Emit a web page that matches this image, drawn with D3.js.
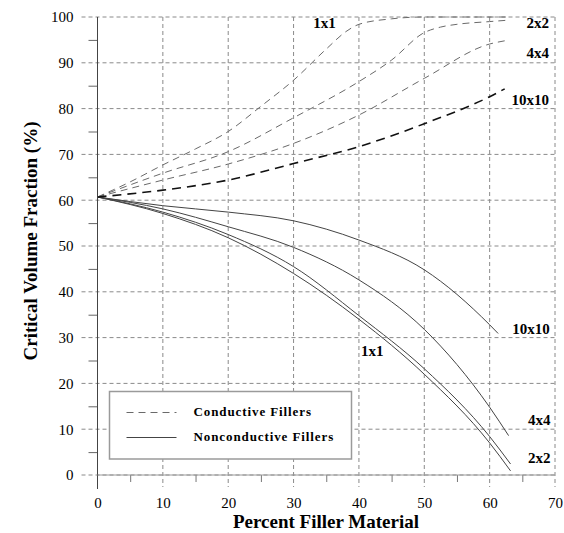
<!DOCTYPE html>
<html lang="en">
<head>
    <meta charset="UTF-8">
    <title>Critical Volume Fraction</title>
    <script src="https://d3js.org/d3.v7.min.js"></script>
    <style>
        body { margin: 0; background: #fff; }
        svg { font-family: "Liberation Serif", "Times New Roman", serif; }
        .grid line { stroke: #8a8a8a; stroke-dasharray: 4,3; stroke-width: 1; }
        .tick-label { font-size: 15px; fill: #000; }
        .axis-title { font-size: 19px; font-weight: bold; }
        .curve-label { font-size: 15px; font-weight: bold; }
        .legend-text { font-size: 13px; font-weight: bold; letter-spacing: 0.9px; }
    </style>
</head>
<body>
    <svg width="564" height="533"></svg>
    <script>
        // Tick values
        const xTicks = [0, 10, 20, 30, 40, 50, 60, 70];
        const yTicks = [0, 10, 20, 30, 40, 50, 60, 70, 80, 90, 100];
        const xMinor = [5, 15, 25, 35, 45, 55, 65];
        const yMinor = [5, 15, 25, 35, 45, 55, 65, 75, 85, 95];

        // Conductive fillers (dashed) - [percent filler, critical volume fraction]
        const cond1x1 = [[0, 60.7], [5, 64.0], [10, 67.7], [15, 71.2], [20, 75.0], [25, 80.5], [30, 86.2], [35, 93.0], [38, 96.8], [40, 98.4], [45, 99.6], [50, 100], [63, 100]];
        const cond2x2 = [[0, 60.7], [10, 65.9], [20, 70.6], [30, 78.0], [40, 85.9], [45, 90.6], [50, 96.6], [52.5, 97.8], [55, 98.4], [60, 99.0], [62.8, 99.3]];
        const cond4x4 = [[0, 60.7], [10, 64.4], [20, 67.9], [30, 72.4], [40, 78.6], [50, 86.6], [60, 94.1], [62.3, 94.8]];
        const cond10x10 = [[0, 60.7], [10, 62.2], [20, 64.4], [30, 68.0], [40, 71.7], [50, 76.7], [60, 82.6], [62.3, 84.3]];

        // Nonconductive fillers (solid)
        const non1x1 = [[0, 60.7], [10, 57.1], [20, 51.8], [30, 44.0], [40, 34.0], [50, 22.0], [60, 7.0], [63.2, 0.9]];
        const non2x2 = [[0, 60.7], [10, 57.4], [20, 52.5], [30, 45.5], [40, 34.8], [50, 23.2], [60, 8.4], [63.2, 2.4]];
        const non4x4 = [[0, 60.7], [10, 58.1], [20, 54.2], [30, 49.7], [40, 42.6], [50, 31.8], [60, 14.8], [62.9, 8.6]];
        const non10x10 = [[0, 60.7], [10, 58.8], [20, 57.4], [30, 55.5], [40, 51.3], [50, 44.8], [60, 32.8], [61.3, 30.9]];

        const svg = d3.select("svg");
        const plotLeft = 97.5, plotRight = 555, plotTop = 17, plotBottom = 475;

        const x = d3.scaleLinear().domain([0, 70]).range([plotLeft, plotRight]);
        const y = d3.scaleLinear().domain([0, 100]).range([plotBottom, plotTop]);

        // dashed grid, extending a little past the left axis like the major ticks
        const grid = svg.append("g").attr("class", "grid");
        grid.selectAll(".hg").data(yTicks).enter().append("line")
            .attr("x1", plotLeft - 16).attr("x2", x(70))
            .attr("y1", d => y(d)).attr("y2", d => y(d));
        grid.selectAll(".vg").data(xTicks.slice(1)).enter().append("line")
            .attr("x1", d => x(d)).attr("x2", d => x(d))
            .attr("y1", y(100)).attr("y2", plotBottom + 12);

        // Axes (labels + minor ticks)
        const yAxis = svg.append("g")
            .attr("transform", `translate(${plotLeft},0)`)
            .call(d3.axisLeft(y).tickValues(yTicks).tickSize(0).tickPadding(24));
        yAxis.select(".domain").remove();
        yAxis.selectAll("text").attr("class", "tick-label");
        yAxis.attr("font-family", null).attr("font-size", null);

        svg.append("g")
            .attr("transform", `translate(${plotLeft},0)`)
            .call(d3.axisLeft(y).tickValues(yMinor).tickSize(9).tickFormat(""))
            .call(g => g.select(".domain").remove())
            .selectAll("line").attr("stroke", "#666");

        const xAxis = svg.append("g")
            .attr("transform", `translate(0,${plotBottom})`)
            .call(d3.axisBottom(x).tickValues(xTicks).tickSize(0).tickPadding(22));
        xAxis.select(".domain").remove();
        xAxis.selectAll("text").attr("class", "tick-label");
        xAxis.attr("font-family", null).attr("font-size", null);

        svg.append("g")
            .attr("transform", `translate(0,${plotBottom})`)
            .call(d3.axisBottom(x).tickValues(xMinor).tickSize(7).tickFormat(""))
            .call(g => g.select(".domain").remove())
            .selectAll("line").attr("stroke", "#777");

        // axis lines
        svg.append("line").attr("x1", plotLeft).attr("x2", plotLeft)
            .attr("y1", plotTop).attr("y2", plotBottom + 14)
            .attr("stroke", "#444").attr("stroke-width", 1);
        svg.append("line").attr("x1", plotLeft).attr("x2", plotRight)
            .attr("y1", plotBottom).attr("y2", plotBottom)
            .attr("stroke", "#9a9a9a").attr("stroke-width", 1);

        // curves
        const line = d3.line()
            .x(d => x(d[0]))
            .y(d => y(d[1]))
            .curve(d3.curveMonotoneX);

        const curves = [
            {data: non1x1, stroke: "#444", width: 1, dash: null},
            {data: non2x2, stroke: "#444", width: 1, dash: null},
            {data: non4x4, stroke: "#444", width: 1, dash: null},
            {data: non10x10, stroke: "#444", width: 1, dash: null},
            {data: cond1x1, stroke: "#6a6a6a", width: 1, dash: "7,5"},
            {data: cond2x2, stroke: "#6a6a6a", width: 1, dash: "7,5"},
            {data: cond4x4, stroke: "#6a6a6a", width: 1, dash: "7,5"},
            {data: cond10x10, stroke: "#111", width: 1.6, dash: "9,6"}
        ];

        svg.append("g")
            .selectAll("path")
            .data(curves)
            .enter().append("path")
            .attr("d", d => line(d.data))
            .attr("fill", "none")
            .attr("stroke", d => d.stroke)
            .attr("stroke-width", d => d.width)
            .attr("stroke-dasharray", d => d.dash);

        // curve labels
        const labels = [
            {text: "1x1", px: 33.0, py: 97.6, anchor: "start"},
            {text: "2x2", px: 69.1, py: 97.6, anchor: "end"},
            {text: "4x4", px: 69.1, py: 91.0, anchor: "end"},
            {text: "10x10", px: 69.1, py: 80.8, anchor: "end"},
            {text: "10x10", px: 69.2, py: 30.7, anchor: "end"},
            {text: "1x1", px: 40.3, py: 25.9, anchor: "start"},
            {text: "4x4", px: 69.3, py: 10.9, anchor: "end"},
            {text: "2x2", px: 69.3, py: 2.6, anchor: "end"}
        ];
        svg.append("g")
            .selectAll("text")
            .data(labels)
            .enter().append("text")
            .attr("class", "curve-label")
            .attr("x", d => x(d.px))
            .attr("y", d => y(d.py))
            .attr("text-anchor", d => d.anchor)
            .text(d => d.text);

        // legend
        const legend = svg.append("g").attr("transform", "translate(109.5,391.5)");
        legend.append("rect")
            .attr("width", 242).attr("height", 67.5)
            .attr("fill", "#fff").attr("stroke", "#9a9a9a").attr("stroke-width", 1.5);
        legend.append("line")
            .attr("x1", 17).attr("x2", 67).attr("y1", 21).attr("y2", 21)
            .attr("stroke", "#6a6a6a").attr("stroke-dasharray", "7,5");
        legend.append("text").attr("class", "legend-text")
            .attr("x", 84).attr("y", 24.5).text("Conductive Fillers");
        legend.append("line")
            .attr("x1", 17).attr("x2", 67).attr("y1", 46).attr("y2", 46)
            .attr("stroke", "#444");
        legend.append("text").attr("class", "legend-text")
            .attr("x", 84).attr("y", 49).text("Nonconductive Fillers");

        // axis titles
        svg.append("text")
            .attr("class", "axis-title")
            .attr("x", 326).attr("y", 528)
            .attr("text-anchor", "middle")
            .text("Percent Filler Material");

        svg.append("text")
            .attr("class", "axis-title")
            .attr("transform", "translate(37,241) rotate(-90)")
            .attr("text-anchor", "middle")
            .text("Critical Volume Fraction (%)");
    </script>
</body>
</html>
